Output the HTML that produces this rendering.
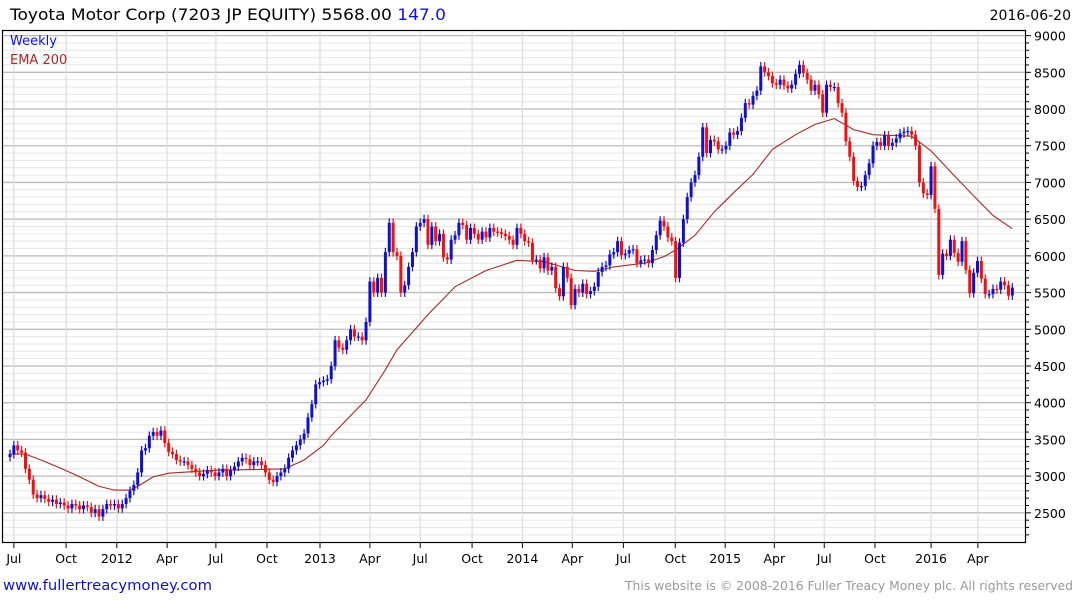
<!DOCTYPE html>
<html><head><meta charset="utf-8">
<style>
html,body{margin:0;padding:0;background:#fff;}
svg{display:block;font-family:"DejaVu Sans","Liberation Sans",sans-serif;}
</style></head>
<body>
<svg id="chart" width="1075" height="600" viewBox="0 0 1075 600" xmlns="http://www.w3.org/2000/svg">
<text x="10" y="20" font-size="16" fill="#000" textLength="436" lengthAdjust="spacingAndGlyphs">Toyota Motor Corp (7203 JP EQUITY) 5568.00 <tspan fill="#1010ee">147.0</tspan></text>
<text x="1071" y="20" font-size="14" text-anchor="end" fill="#000">2016-06-20</text>
<g id="grid"></g>
<g id="ema"></g>
<g id="candles"></g>
<rect x="2.5" y="30.5" width="1023" height="512" fill="none" stroke="#000" stroke-width="1.2"/>
<g id="axes"></g>
<text x="10" y="45" font-size="13" fill="#1010ee">Weekly</text>
<text x="10" y="64" font-size="13" fill="#a52a2a">EMA 200</text>
<text x="3" y="590" font-size="14" fill="#1010cc" textLength="209" lengthAdjust="spacingAndGlyphs">www.fullertreacymoney.com</text>
<text x="1073" y="590" font-size="12" text-anchor="end" fill="#999" textLength="448" lengthAdjust="spacingAndGlyphs">This website is © 2008-2016 Fuller Treacy Money plc. All rights reserved</text>
</svg>
<script>
const closes = [3300,3420,3350,3320,3100,2950,2750,2700,2740,2690,2650,2680,2620,2640,2600,2560,2620,2600,2550,2600,2580,2500,2550,2450,2550,2620,2600,2620,2560,2620,2700,2800,2880,3050,3350,3380,3550,3600,3550,3620,3450,
3330,3300,3220,3200,3200,3150,3100,3050,3000,3030,3080,3050,3000,3050,3100,3000,3080,3130,3200,3250,3230,3150,3200,3200,3150,3050,2950,2920,3000,3050,3100,3250,3350,3420,3500,3580,3800,3980,
4250,4280,4300,4320,4500,4850,4750,4720,4850,5000,4900,4900,4850,5100,5650,5500,5700,5500,6050,6450,6050,6000,5500,5600,5850,6050,6400,
6450,6500,6150,6400,6200,6300,5980,5950,6220,6280,6450,6420,6220,6380,6300,6220,6330,6250,6380,6330,6320,6300,6270,6220,6150,6380,6300,6200,6180,5940,5950,5830,5980,5800,5850,5560,5450,5850,5700,5330,5550,5500,5620,5480,5520,5580,5780,5850,5870,6020,6050,6200,6010,6030,6080,6090,5900,5940,5950,5900,6080,6280,6480,6400,6250,6200,5700,
6180,6500,6800,7000,7100,7350,7750,7400,7580,7560,7450,7450,7500,7680,7650,7700,7880,8080,8060,8180,8250,8580,8500,8450,8350,8330,8400,8320,8280,8330,8480,8600,8490,8400,8250,8330,8200,7950,8330,8300,8300,8080,7950,7560,7350,7020,6940,6950,7100,7260,7500,7550,7500,7640,7500,7540,7600,7670,7690,7700,7650,7500,7000,6850,6830,7220,6640,5740,6030,6000,6220,6040,5920,6200,5810,5490,5770,5930,5690,5480,5480,5550,5540,5650,5600,5460,5568];
const emaWeeks = [0,4,8,13,18,23,27,31,33,37,41,53,65,71,76,81,83,90,92,97,100,108,115,123,131,138,146,151,156,164,169,172,177,182,187,192,197,203,208,213,218,223,228,233,238,244,249,254,259];
const emaValues = [3300,3300,3220,3110,2990,2860,2810,2810,2860,2990,3040,3080,3090,3100,3220,3420,3550,3930,4037,4450,4720,5200,5580,5800,5940,5920,5800,5790,5850,5900,5990,6080,6280,6600,6860,7110,7450,7650,7790,7870,7720,7650,7640,7630,7430,7090,6820,6550,6370];
const yTicks = [2500,3000,3500,4000,4500,5000,5500,6000,6500,7000,7500,8000,8500,9000];
const xTickLabels = ["Jul","Oct","2012","Apr","Jul","Oct","2013","Apr","Jul","Oct","2014","Apr","Jul","Oct","2015","Apr","Jul","Oct","2016","Apr"];
const xTickWeeks = [1,14.5,27.6,40.6,53.2,66.4,80.1,93,106,119.4,132.4,145.3,158.5,171.9,184.8,197.5,210.4,223.5,238,250.1];

const NS="http://www.w3.org/2000/svg";
const X0=10, STEP=3.87;
function xs(i){return X0+i*STEP;}
function ys(v){return 35.6+(9000-v)*0.07342;}
function mk(tag,attrs,parent){const e=document.createElementNS(NS,tag);for(const k in attrs)e.setAttribute(k,attrs[k]);parent.appendChild(e);return e;}
const grid=document.getElementById('grid'), axes=document.getElementById('axes');
for(let v=2200;v<=9100;v+=100){
  const y=ys(v); if(y<31||y>542)continue;
  const major=v%500===0;
  const l=mk('line',{x1:3,x2:1026,y1:y,y2:y,stroke:major?'#bbb':'#e6e6e6','stroke-width':major?1.3:1},grid);
  
  
  const t=mk('line',{x1:1026,x2:major?1031:1029,y1:y,y2:y,stroke:'#000','stroke-width':1},axes);
  
  
}
yTicks.forEach(v=>{
  const t=mk('text',{x:1034,y:ys(v)+5,'font-size':12.5,fill:'#000'},axes);
  t.textContent=v;
  
  
});
xTickWeeks.forEach((w,i)=>{
  const x=xs(w);
  const g=mk('line',{x1:x,x2:x,y1:31,y2:542,stroke:'#ddd','stroke-width':1.2},grid);
  
  
  const tk=mk('line',{x1:x,x2:x,y1:543,y2:548,stroke:'#000','stroke-width':1},axes);
  
  
  const t=mk('text',{x:x,y:563,'font-size':12.5,'text-anchor':'middle',fill:'#000'},axes);
  t.textContent=xTickLabels[i];
  
  
});
const pts=emaWeeks.map((w,i)=>xs(w).toFixed(1)+','+ys(emaValues[i]).toFixed(1)).join(' ');
const pl=mk('polyline',{points:pts,fill:'none',stroke:'#a52a2a','stroke-width':1.1,'stroke-linejoin':'round'},document.getElementById('ema'));


const cg=document.getElementById('candles');
closes.forEach((c,i)=>{
  const o=i===0?c-40:closes[i-1];
  const up=c>=o;
  const col=up?'#1010cc':'#ee1111';
  const hi=Math.max(o,c)+60, lo=Math.min(o,c)-60;
  const x=xs(i);
  const w=mk('line',{x1:x,x2:x,y1:ys(hi),y2:ys(lo),stroke:col,'stroke-width':1.2},cg);
  
  
  const top=ys(Math.max(o,c)), bot=ys(Math.min(o,c));
  const r=mk('rect',{x:x-1.5,y:top,width:3,height:Math.max(1.2,bot-top),fill:col},cg);
  
  
});
</script>
</body></html>
